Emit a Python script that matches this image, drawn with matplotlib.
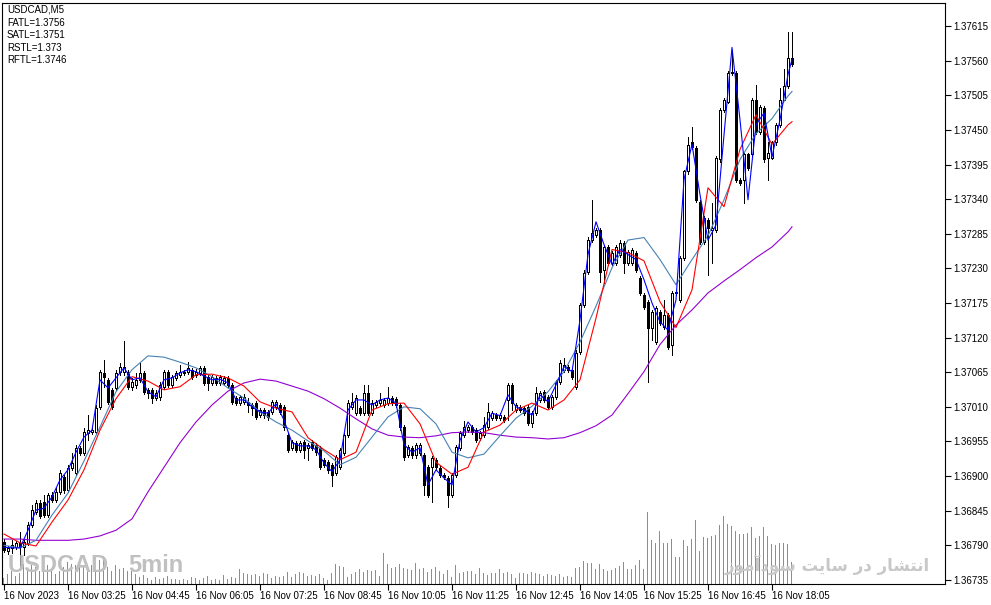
import numpy as np
import matplotlib.pyplot as plt

plt.rcParams['font.family'] = ['Liberation Sans', 'DejaVu Sans']

# chart header text
symbol_line = "USDCAD,M5"
info_lines = ["FATL=1.3756", "SATL=1.3751", "RSTL=1.373", "RFTL=1.3746"]
watermark_left = ["USDCAD", "5min"]
# Persian watermark "انتشار در سایت سودآموز" written with presentation forms, visual order
watermark_right = "\ufeaf\ufeee\ufee3\ufe81\ufea9\ufeee\ufeb3 \ufe96\ufbfe\ufe8e\ufeb3 \ufead\ufea9 \ufead\ufe8e\ufeb8\ufe98\ufee7\ufe8d"

# 5 minute bars, 16 Nov 2023
open_ = [1.36795, 1.36781, 1.36786, 1.36787, 1.36794, 1.36787, 1.36794, 1.36822, 1.36843, 1.36857,
         1.36859, 1.36838, 1.36870, 1.36862, 1.36875, 1.36899, 1.36878, 1.36913, 1.36905, 1.36945,
         1.36937, 1.36969, 1.36970, 1.36970, 1.37010, 1.37064, 1.37053, 1.37037, 1.37040, 1.37066,
         1.37066, 1.37066, 1.37042, 1.37045, 1.37053, 1.37064, 1.37037, 1.37037, 1.37024, 1.37026,
         1.37042, 1.37066, 1.37045, 1.37056, 1.37061, 1.37066, 1.37066, 1.37069, 1.37061, 1.37064,
         1.37072, 1.37058, 1.37048, 1.37056, 1.37048, 1.37048, 1.37056, 1.37045, 1.37024, 1.37016,
         1.37018, 1.37018, 1.37013, 1.37016, 1.36997, 1.37005, 1.37002, 1.37002, 1.37010, 1.37013,
         1.37010, 1.36965, 1.36945, 1.36953, 1.36942, 1.36954, 1.36945, 1.36954, 1.36949, 1.36945,
         1.36926, 1.36922, 1.36918, 1.36905, 1.36914, 1.36937, 1.36965, 1.37010, 1.37000, 1.37008,
         1.37000, 1.37032, 1.37000, 1.37013, 1.37016, 1.37013, 1.37016, 1.37024, 1.37023, 1.37013,
         1.36978, 1.36934, 1.36945, 1.36934, 1.36937, 1.36934, 1.36914, 1.36914, 1.36926, 1.36913,
         1.36902, 1.36897, 1.36870, 1.36902, 1.36945, 1.36965, 1.36973, 1.36978, 1.36973, 1.36961,
         1.36965, 1.36978, 1.36992, 1.36997, 1.36992, 1.36994, 1.37021, 1.37045, 1.37005, 1.37010,
         1.37008, 1.37010, 1.36985, 1.37000, 1.37021, 1.37034, 1.37026, 1.37010, 1.37026, 1.37050,
         1.37069, 1.37073, 1.37069, 1.37042, 1.37097, 1.37172, 1.37225, 1.37275, 1.37283, 1.37291,
         1.37228, 1.37264, 1.37239, 1.37239, 1.37252, 1.37271, 1.37239, 1.37239, 1.37255, 1.37215,
         1.37188, 1.37177, 1.37136, 1.37113, 1.37161, 1.37137, 1.37156, 1.37108, 1.37191, 1.37180,
         1.37247, 1.37384, 1.37431, 1.37422, 1.37336, 1.37272, 1.37307, 1.37291, 1.37291, 1.37403,
         1.37482, 1.37495, 1.37542, 1.37541, 1.37371, 1.37371, 1.37411, 1.37411, 1.37498, 1.37447,
         1.37485, 1.37406, 1.37406, 1.37430, 1.37458, 1.37498, 1.37519, 1.37565]
high = [1.36800, 1.36789, 1.36798, 1.36797, 1.36811, 1.36798, 1.36827, 1.36854, 1.36862, 1.36862,
        1.36870, 1.36873, 1.36875, 1.36883, 1.36910, 1.36902, 1.36918, 1.36937, 1.36949, 1.36948,
        1.36976, 1.36997, 1.36978, 1.37013, 1.37069, 1.37085, 1.37056, 1.37040, 1.37069, 1.37080,
        1.37115, 1.37069, 1.37056, 1.37064, 1.37080, 1.37067, 1.37040, 1.37040, 1.37037, 1.37050,
        1.37069, 1.37069, 1.37061, 1.37067, 1.37077, 1.37069, 1.37081, 1.37072, 1.37070, 1.37075,
        1.37075, 1.37061, 1.37061, 1.37059, 1.37061, 1.37059, 1.37059, 1.37048, 1.37027, 1.37029,
        1.37031, 1.37024, 1.37016, 1.37019, 1.37008, 1.37008, 1.37005, 1.37021, 1.37021, 1.37016,
        1.37013, 1.36969, 1.36957, 1.36956, 1.36956, 1.36957, 1.36953, 1.36957, 1.36953, 1.36948,
        1.36929, 1.36926, 1.36921, 1.36934, 1.36945, 1.36969, 1.37021, 1.37032, 1.37029, 1.37011,
        1.37045, 1.37045, 1.37021, 1.37021, 1.37032, 1.37024, 1.37042, 1.37027, 1.37026, 1.37016,
        1.36981, 1.36949, 1.36948, 1.36953, 1.36953, 1.36937, 1.36918, 1.36932, 1.36929, 1.36916,
        1.36905, 1.36900, 1.36905, 1.36949, 1.36972, 1.36988, 1.36981, 1.36981, 1.36976, 1.36972,
        1.36994, 1.37016, 1.37004, 1.37000, 1.37000, 1.36997, 1.37048, 1.37048, 1.37016, 1.37013,
        1.37011, 1.37013, 1.37004, 1.37042, 1.37035, 1.37037, 1.37029, 1.37029, 1.37053, 1.37085,
        1.37088, 1.37077, 1.37072, 1.37101, 1.37175, 1.37228, 1.37280, 1.37339, 1.37294, 1.37294,
        1.37267, 1.37267, 1.37258, 1.37267, 1.37275, 1.37274, 1.37260, 1.37263, 1.37258, 1.37218,
        1.37191, 1.37180, 1.37164, 1.37170, 1.37164, 1.37180, 1.37159, 1.37194, 1.37196, 1.37250,
        1.37387, 1.37438, 1.37455, 1.37425, 1.37339, 1.37314, 1.37310, 1.37334, 1.37409, 1.37485,
        1.37501, 1.37544, 1.37577, 1.37544, 1.37374, 1.37414, 1.37414, 1.37501, 1.37522, 1.37490,
        1.37488, 1.37430, 1.37433, 1.37461, 1.37517, 1.37546, 1.37605, 1.37605]
low = [1.36779, 1.36776, 1.36778, 1.36784, 1.36757, 1.36775, 1.36791, 1.36819, 1.36840, 1.36833,
       1.36835, 1.36835, 1.36859, 1.36859, 1.36872, 1.36873, 1.36875, 1.36910, 1.36902, 1.36934,
       1.36934, 1.36957, 1.36967, 1.36967, 1.37007, 1.37042, 1.37015, 1.37007, 1.37037, 1.37061,
       1.37061, 1.37039, 1.37037, 1.37040, 1.37050, 1.37031, 1.37024, 1.37016, 1.37021, 1.37021,
       1.37039, 1.37042, 1.37042, 1.37053, 1.37058, 1.37061, 1.37062, 1.37054, 1.37058, 1.37061,
       1.37045, 1.37037, 1.37045, 1.37045, 1.37045, 1.37045, 1.37042, 1.37015, 1.37013, 1.37013,
       1.37015, 1.37002, 1.36997, 1.36991, 1.36994, 1.36992, 1.36989, 1.36999, 1.37007, 1.36999,
       1.36973, 1.36938, 1.36942, 1.36938, 1.36938, 1.36929, 1.36926, 1.36942, 1.36934, 1.36911,
       1.36914, 1.36905, 1.36884, 1.36902, 1.36911, 1.36934, 1.36962, 1.37007, 1.36997, 1.36997,
       1.36997, 1.36997, 1.36997, 1.37010, 1.37013, 1.37010, 1.37013, 1.37013, 1.37010, 1.36973,
       1.36926, 1.36930, 1.36929, 1.36929, 1.36934, 1.36870, 1.36867, 1.36859, 1.36911, 1.36899,
       1.36895, 1.36851, 1.36867, 1.36899, 1.36942, 1.36962, 1.36970, 1.36967, 1.36954, 1.36957,
       1.36962, 1.36975, 1.36989, 1.36989, 1.36989, 1.36986, 1.36989, 1.37005, 1.37002, 1.37002,
       1.36997, 1.36981, 1.36978, 1.36997, 1.37018, 1.37018, 1.37007, 1.37007, 1.37023, 1.37046,
       1.37066, 1.37066, 1.37054, 1.37039, 1.37094, 1.37169, 1.37221, 1.37272, 1.37280, 1.37209,
       1.37207, 1.37236, 1.37236, 1.37236, 1.37248, 1.37223, 1.37236, 1.37236, 1.37225, 1.37188,
       1.37166, 1.37050, 1.37116, 1.37110, 1.37140, 1.37134, 1.37102, 1.37093, 1.37188, 1.37177,
       1.37244, 1.37380, 1.37420, 1.37336, 1.37269, 1.37269, 1.37220, 1.37239, 1.37288, 1.37399,
       1.37479, 1.37492, 1.37538, 1.37368, 1.37363, 1.37334, 1.37387, 1.37407, 1.37444, 1.37444,
       1.37399, 1.37371, 1.37403, 1.37426, 1.37455, 1.37497, 1.37516, 1.37551]
close = [1.36782, 1.36786, 1.36791, 1.36794, 1.36787, 1.36795, 1.36822, 1.36846, 1.36857, 1.36837,
         1.36838, 1.36870, 1.36862, 1.36875, 1.36905, 1.36878, 1.36913, 1.36921, 1.36945, 1.36937,
         1.36970, 1.36973, 1.36973, 1.37008, 1.37066, 1.37058, 1.37018, 1.37010, 1.37064, 1.37074,
         1.37074, 1.37042, 1.37050, 1.37053, 1.37064, 1.37034, 1.37032, 1.37024, 1.37032, 1.37045,
         1.37066, 1.37045, 1.37058, 1.37064, 1.37066, 1.37064, 1.37072, 1.37058, 1.37066, 1.37072,
         1.37048, 1.37048, 1.37058, 1.37048, 1.37058, 1.37056, 1.37045, 1.37018, 1.37016, 1.37026,
         1.37026, 1.37013, 1.37008, 1.36994, 1.37005, 1.36997, 1.36994, 1.37018, 1.37018, 1.37002,
         1.36978, 1.36942, 1.36954, 1.36942, 1.36953, 1.36942, 1.36949, 1.36945, 1.36938, 1.36914,
         1.36918, 1.36910, 1.36902, 1.36930, 1.36942, 1.36965, 1.37016, 1.37018, 1.37024, 1.37000,
         1.37032, 1.37000, 1.37016, 1.37018, 1.37021, 1.37021, 1.37024, 1.37016, 1.37013, 1.36978,
         1.36930, 1.36946, 1.36934, 1.36949, 1.36949, 1.36886, 1.36870, 1.36929, 1.36914, 1.36902,
         1.36899, 1.36870, 1.36902, 1.36946, 1.36969, 1.36978, 1.36978, 1.36970, 1.36957, 1.36969,
         1.36981, 1.37002, 1.37000, 1.36992, 1.36997, 1.36989, 1.37045, 1.37016, 1.37013, 1.37005,
         1.37000, 1.36985, 1.37000, 1.37032, 1.37032, 1.37021, 1.37010, 1.37026, 1.37050, 1.37080,
         1.37077, 1.37069, 1.37058, 1.37096, 1.37172, 1.37223, 1.37275, 1.37287, 1.37291, 1.37225,
         1.37264, 1.37239, 1.37255, 1.37264, 1.37271, 1.37239, 1.37256, 1.37260, 1.37228, 1.37191,
         1.37169, 1.37136, 1.37161, 1.37167, 1.37143, 1.37156, 1.37105, 1.37191, 1.37193, 1.37247,
         1.37384, 1.37426, 1.37423, 1.37339, 1.37272, 1.37310, 1.37294, 1.37294, 1.37406, 1.37482,
         1.37498, 1.37541, 1.37541, 1.37371, 1.37366, 1.37411, 1.37390, 1.37498, 1.37447, 1.37487,
         1.37403, 1.37414, 1.37430, 1.37458, 1.37498, 1.37519, 1.37565, 1.37554]
volume = [6, 10, 13, 8, 11, 20, 13, 19, 17, 13, 20, 19, 15, 10, 13, 17, 22, 20, 19, 20,
          17, 19, 19, 19, 24, 28, 17, 13, 19, 15, 16, 13, 13, 10, 7, 9, 6, 4, 7, 5,
          6, 8, 5, 5, 4, 5, 4, 7, 6, 4, 6, 8, 4, 5, 4, 9, 5, 7, 6, 15,
          11, 10, 9, 10, 8, 11, 10, 6, 8, 7, 8, 12, 7, 10, 12, 11, 8, 9, 8, 10,
          6, 4, 11, 20, 18, 17, 7, 10, 12, 15, 12, 14, 13, 14, 8, 31, 20, 16, 17, 20,
          16, 15, 14, 21, 15, 16, 12, 15, 17, 13, 10, 14, 7, 19, 11, 12, 13, 13, 10, 16,
          11, 9, 11, 11, 15, 11, 12, 10, 6, 11, 11, 10, 12, 11, 10, 8, 10, 9, 8, 10,
          7, 8, 7, 16, 17, 23, 21, 21, 15, 20, 15, 13, 14, 16, 18, 22, 15, 15, 19, 24,
          15, 72, 44, 41, 53, 41, 41, 45, 27, 27, 44, 38, 45, 64, 33, 47, 46, 48, 49, 59,
          68, 60, 58, 53, 50, 50, 51, 57, 46, 48, 57, 48, 40, 39, 41, 41, 40, 22]

# indicator lines (sampled at bar numbers)
slow_bars = list(range(0, 197, 4)) + [197]
rstl = [1.36800, 1.36800, 1.36798, 1.36798, 1.36798, 1.36800, 1.36805, 1.36814, 1.36832, 1.36875,
        1.36914, 1.36953, 1.36986, 1.37013, 1.37035, 1.37048, 1.37054, 1.37051, 1.37043, 1.37035,
        1.37023, 1.37008, 1.36991, 1.36975, 1.36965, 1.36962, 1.36961, 1.36964, 1.36969, 1.36970,
        1.36969, 1.36965, 1.36962, 1.36961, 1.36959, 1.36961, 1.36969, 1.36980, 1.36997, 1.37031,
        1.37066, 1.37109, 1.37140, 1.37164, 1.37191, 1.37210, 1.37228, 1.37247, 1.37264, 1.37288,
        1.37296]
satl = [1.36790, 1.36786, 1.36798, 1.36838, 1.36873, 1.36924, 1.36978, 1.37034, 1.37069, 1.37091,
        1.37089, 1.37081, 1.37072, 1.37058, 1.37040, 1.37024, 1.37002, 1.36986, 1.36973, 1.36956,
        1.36940, 1.36918, 1.36930, 1.36962, 1.36994, 1.37010, 1.37007, 1.36983, 1.36938, 1.36929,
        1.36935, 1.36964, 1.36992, 1.37011, 1.37034, 1.37066, 1.37113, 1.37170, 1.37231, 1.37275,
        1.37279, 1.37244, 1.37204, 1.37244, 1.37282, 1.37339, 1.37403, 1.37444, 1.37468, 1.37504,
        1.37511]
rftl = [1.36808, 1.36794, 1.36789, 1.36827, 1.36862, 1.36910, 1.36973, 1.37023, 1.37058, 1.37051,
        1.37037, 1.37042, 1.37061, 1.37062, 1.37056, 1.37043, 1.37018, 1.37008, 1.37002, 1.36961,
        1.36942, 1.36926, 1.36938, 1.37005, 1.37015, 1.37016, 1.36983, 1.36922, 1.36903, 1.36914,
        1.36970, 1.36981, 1.37005, 1.37016, 1.37005, 1.37021, 1.37053, 1.37151, 1.37260, 1.37255,
        1.37242, 1.37177, 1.37136, 1.37196, 1.37358, 1.37328, 1.37419, 1.37474, 1.37427, 1.37458,
        1.37463]
fast_bars = list(range(0, 197, 2)) + [197]
fatl = [1.36787, 1.36786, 1.36786, 1.36814, 1.36846, 1.36849, 1.36867, 1.36894, 1.36910, 1.36938,
        1.36962, 1.36973, 1.37053, 1.37040, 1.37056, 1.37072, 1.37053, 1.37056, 1.37034, 1.37026,
        1.37053, 1.37056, 1.37064, 1.37069, 1.37066, 1.37059, 1.37053, 1.37054, 1.37048, 1.37021,
        1.37021, 1.37010, 1.37002, 1.37000, 1.37015, 1.36989, 1.36953, 1.36948, 1.36948, 1.36942,
        1.36921, 1.36907, 1.36926, 1.37005, 1.37021, 1.37021, 1.37013, 1.37021, 1.37024, 1.37016,
        1.36950, 1.36938, 1.36945, 1.36886, 1.36910, 1.36897, 1.36886, 1.36957, 1.36986, 1.36970,
        1.36977, 1.37000, 1.36996, 1.37029, 1.37010, 1.37005, 1.36997, 1.37029, 1.37018, 1.37045,
        1.37074, 1.37066, 1.37148, 1.37252, 1.37304, 1.37268, 1.37236, 1.37260, 1.37252, 1.37244,
        1.37212, 1.37175, 1.37145, 1.37132, 1.37180, 1.37371, 1.37427, 1.37347, 1.37275, 1.37299,
        1.37442, 1.37581, 1.37466, 1.37339, 1.37458, 1.37477, 1.37407, 1.37466, 1.37538,
        1.37562]

time_labels = ["16 Nov 2023", "16 Nov 03:25", "16 Nov 04:45", "16 Nov 06:05", "16 Nov 07:25",
               "16 Nov 08:45", "16 Nov 10:05", "16 Nov 11:25", "16 Nov 12:45", "16 Nov 14:05",
               "16 Nov 15:25", "16 Nov 16:45", "16 Nov 18:05"]
time_label_bars = list(range(0, 193, 16))
price_ticks = [1.36735, 1.36790, 1.36845, 1.36900, 1.36955, 1.37010, 1.37065, 1.37120, 1.37175,
               1.37230, 1.37285, 1.37340, 1.37395, 1.37450, 1.37505, 1.37560, 1.37615]

W, H = 991, 605
fig = plt.figure(figsize=(W / 100, H / 100), dpi=100)
fig.patch.set_facecolor('white')
rect = [2 / W, (H - 584) / H, 943 / W, 581 / H]
xlim = (-0.5, 235.25)
ylim = (1.367286, 1.376516)
px = 0.72  # one pixel in points

x = np.arange(len(close))
o = np.array(open_)
c = np.array(close)
up = c >= o

# volume in the background
axv = fig.add_axes(rect)
axv.vlines(x - 0.25, 0, volume, color='#32cd32', lw=px, antialiased=False)
axv.set_xlim(*xlim)
axv.set_ylim(0, 581)
axv.axis('off')

ax = fig.add_axes(rect, facecolor='none')
ax.vlines(x, low, high, color='black', lw=px, zorder=2, antialiased=False)
ax.bar(x[up], (c - o)[up], bottom=o[up], width=0.55, color='white',
       edgecolor='black', lw=px, zorder=3, antialiased=False)
ax.bar(x[~up], (o - c)[~up], bottom=c[~up], width=0.55, color='black',
       edgecolor='black', lw=px, zorder=3, antialiased=False)

ax.plot(slow_bars, rstl, color='#9400d3', lw=0.8, zorder=4)
ax.plot(slow_bars, satl, color='#4682b4', lw=0.8, zorder=4)
ax.plot(slow_bars, rftl, color='#ff0000', lw=0.8, zorder=4)
ax.plot(fast_bars, fatl, color='#0000ff', lw=0.8, zorder=4)

ax.set_xlim(*xlim)
ax.set_ylim(*ylim)
for s in ax.spines.values():
    s.set_linewidth(0.8)

ax.set_xticks(time_label_bars)
ax.set_xticklabels(time_labels, fontsize=7, ha='left')
ax.tick_params(axis='x', length=4, width=0.8, pad=1)

ax.yaxis.tick_right()
ax.set_yticks(price_ticks)
ax.set_yticklabels([f"{p:.5f}" for p in price_ticks], fontsize=7)
ax.tick_params(axis='y', length=4, width=0.8, pad=2)

# header
fig.text(7 / W, 1 - 10 / H, symbol_line, fontsize=7, va='center')
for k, line in enumerate(info_lines):
    fig.text(7 / W, 1 - (23 + 12.3 * k) / H, line, fontsize=7, va='center')

# watermarks
fig.text(8 / W, 1 - 566 / H, watermark_left[0], fontsize=17, weight='bold',
         color='#c0c0c0', va='center', zorder=10)
fig.text(128 / W, 1 - 566 / H, watermark_left[1], fontsize=17, weight='bold',
         color='#c0c0c0', va='center', zorder=10)
fig.text(930 / W, 1 - 565 / H, watermark_right, fontsize=12, weight='bold',
         color='#c8c8c8', va='center', ha='right', family=['DejaVu Sans'], zorder=10)

fig.savefig('out.png', dpi=100)
